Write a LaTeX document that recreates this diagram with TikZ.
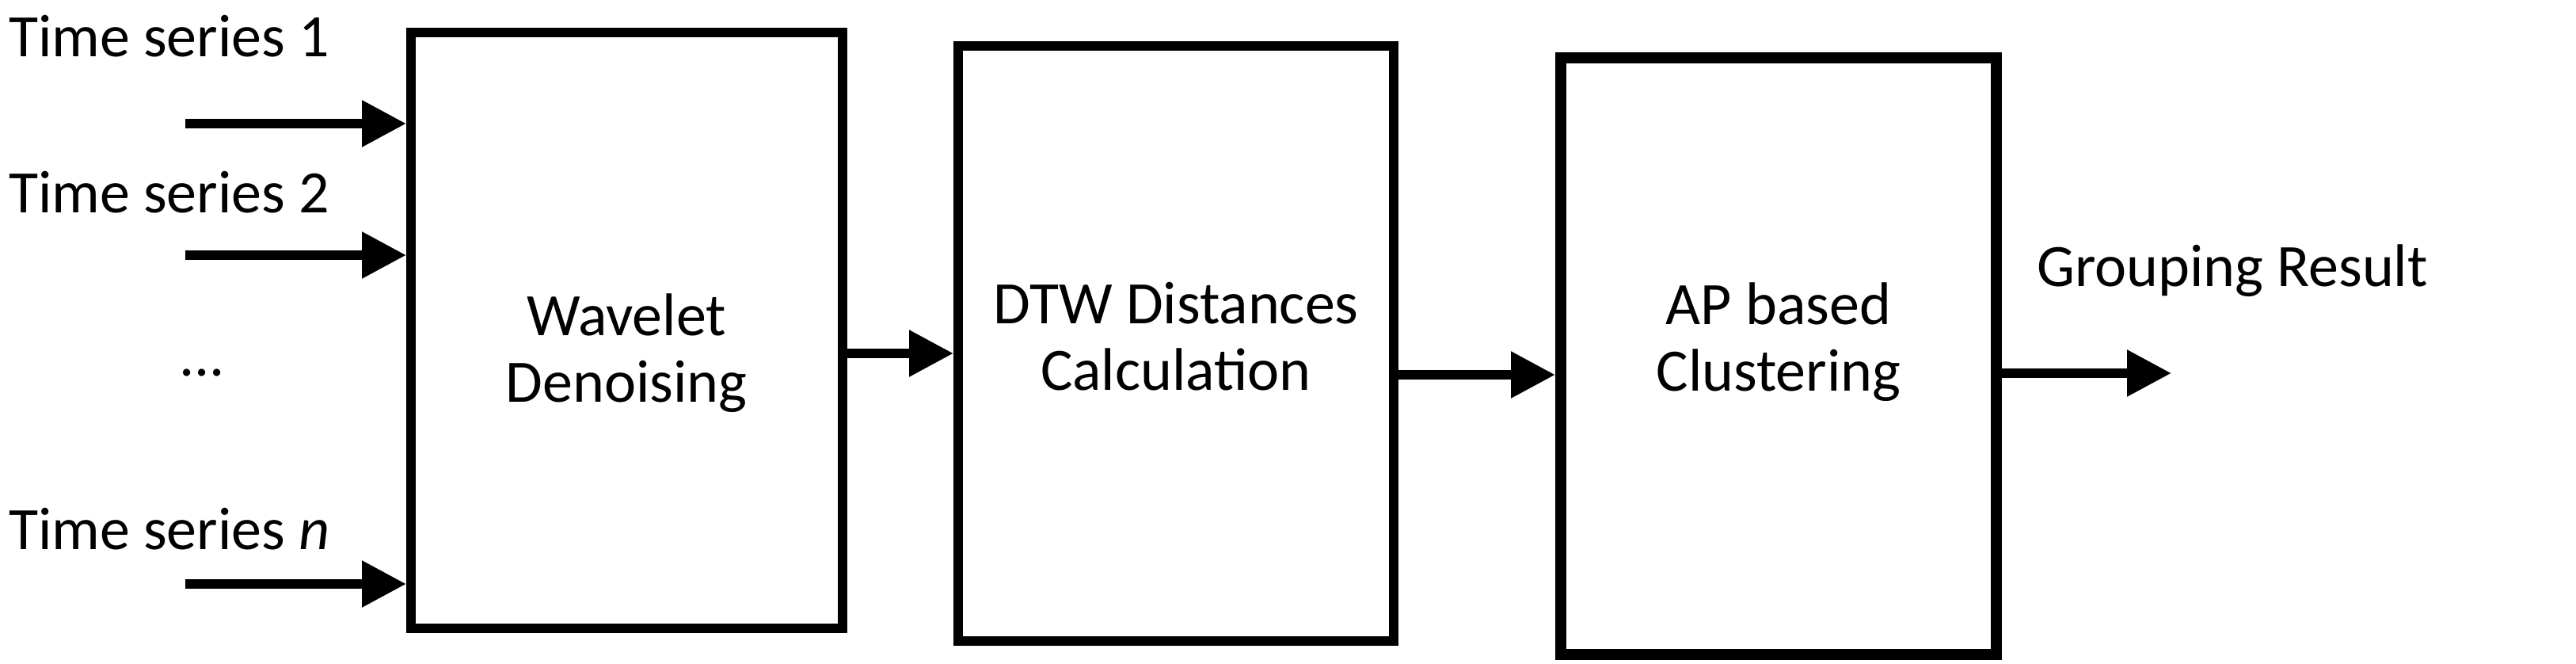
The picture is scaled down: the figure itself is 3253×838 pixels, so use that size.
\documentclass[tikz,border=0pt]{standalone}
\usepackage{fontspec}
\setmainfont{Carlito}
\usetikzlibrary{arrows.meta}
\begin{document}
\begin{tikzpicture}[x=0.5pt,y=-0.5pt,
  box/.style={draw,line width=6pt,inner sep=0pt},
  arr/.style={line width=6pt,-{Triangle[length=28pt,width=28pt]}},
  lab/.style={font=\fontsize{38}{42}\selectfont,align=center}]
\useasboundingbox (0,0) rectangle (3253,838);
\node[box,minimum width=545*0.5pt,minimum height=752*0.5pt] (b1) at (791.5,417) {};
\node[box,minimum width=550*0.5pt,minimum height=751*0.5pt] (b2) at (1485,433.5) {};
\node[box,line width=7pt,minimum width=550*0.5pt,minimum height=753*0.5pt] (b3) at (2246,449.5) {};
\node[lab] at (791,446) {Wavelet\\Denoising};
\node[lab] at (1485,425) {DTW Distances\\Calculation};
\node[lab] at (2246,432) {AP based\\Clustering};
\node[lab,anchor=west] (t1) at (4,46) {Time series 1};
\node[lab,anchor=west] (t2) at (4,243) {Time series 2};
\node[lab,anchor=west] (tn) at (4,668) {Time series \textit{n}};
\node[lab] (dots) at (255,470) {...};
\node[lab,anchor=west] (gr) at (2565,342) {Grouping Result};
\coordinate (i1) at (234,156);
\coordinate (i2) at (234,322);
\coordinate (i3) at (234,737);
\coordinate (o) at (2742,471);
\draw[arr] (i1) -- (i1 -| b1.west);
\draw[arr] (i2) -- (i2 -| b1.west);
\draw[arr] (i3) -- (i3 -| b1.west);
\draw[arr] (b1.east |- 0,446) -- (b2.west |- 0,446);
\draw[arr] (b2.east |- 0,473) -- (b3.west |- 0,473);
\draw[arr] (b3.east |- o) -- (o);
\end{tikzpicture}
\end{document}
